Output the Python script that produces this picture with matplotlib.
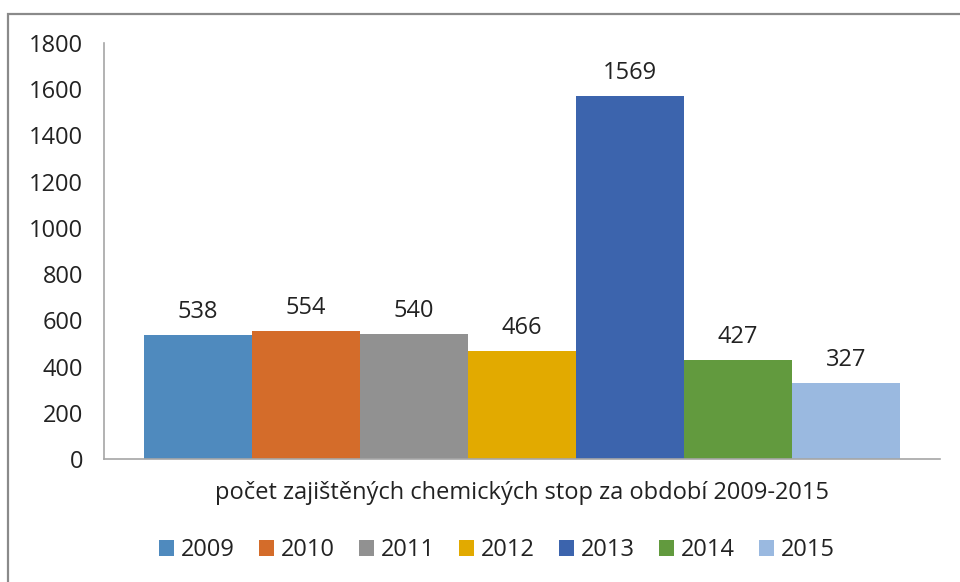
import matplotlib
matplotlib.use("Agg")
import matplotlib.pyplot as plt
from matplotlib.patches import Rectangle

years = ["2009", "2010", "2011", "2012", "2013", "2014", "2015"]
values = [538, 554, 540, 466, 1569, 427, 327]
colors = ["#4f8abe", "#d46c2a", "#919191", "#e2aa00", "#3c64ad", "#629a3e", "#9ab9e0"]
xlabel = "počet zajištěných chemických stop za období 2009-2015"
yticks = list(range(0, 1801, 200))

plt.rcParams['font.family'] = ['Open Sans', 'DejaVu Sans']
FS = 17

W, H = 960, 582
fig = plt.figure(figsize=(W / 100, H / 100), dpi=100)
ax = fig.add_axes([104 / W, 1 - 459 / H, (940 - 104) / W, (459 - 43) / H])

group = 756 / 836
bw = group / len(years)
start = -group / 2
for i, (y, v, c) in enumerate(zip(years, values, colors)):
    x = start + bw * (i + 0.5)
    ax.bar(x, v, width=bw, color=c, label=y, linewidth=0)
    ax.annotate(str(v), (x, v), xytext=(0, 8), textcoords="offset points",
                ha="center", va="bottom", fontsize=FS, color="#222222")

ax.set_xlim(-0.5, 0.5)
ax.set_ylim(0, 1800)
ax.set_yticks(yticks)
ax.set_xticks([])
ax.tick_params(axis="y", length=0, labelsize=FS, labelcolor="#222222", pad=15)
for s in ["top", "right"]:
    ax.spines[s].set_visible(False)
ax.spines["left"].set_color("#a6a6a6")
ax.spines["bottom"].set_color("#a6a6a6")
ax.spines["left"].set_linewidth(1.2)
ax.spines["bottom"].set_linewidth(1.2)
ax.set_xlabel(xlabel, fontsize=FS, color="#222222", labelpad=16)

fig.legend(loc="center", bbox_to_anchor=(497 / W, 1 - 550 / H), ncol=7,
           frameon=False, fontsize=FS, handlelength=0.65, handleheight=0.65,
           handletextpad=0.3, columnspacing=1.0, labelcolor="#222222")

fig.patches.append(Rectangle((7.5 / W, -0.1), 1.2, 1 - 13.5 / H + 0.1,
                             transform=fig.transFigure, fill=False,
                             edgecolor="#8a8a8a", linewidth=1.6))

fig.savefig("out.png", dpi=100)
